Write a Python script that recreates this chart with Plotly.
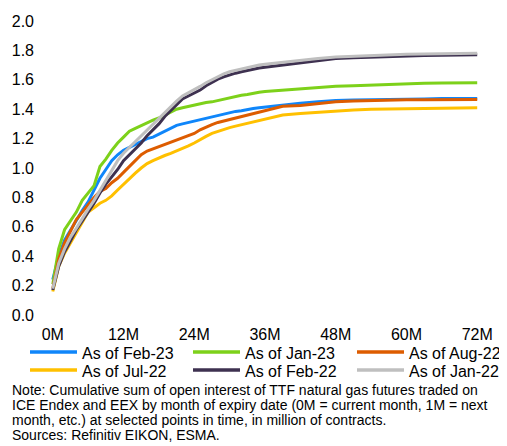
import plotly.graph_objects as go

months = list(range(0, 37)) + [39, 42, 45, 48, 51, 54, 57, 60, 63, 66, 69, 72]
tick_vals = [0, 12, 24, 36, 48, 60, 72]
tick_text = ["0M", "12M", "24M", "36M", "48M", "60M", "72M"]

feb23 = [0.24, 0.40, 0.51, 0.58, 0.65, 0.71, 0.77, 0.85, 0.93, 0.99, 1.05, 1.09, 1.12,
         1.14, 1.16, 1.18, 1.20, 1.21, 1.23, 1.25, 1.27, 1.29, 1.30, 1.31, 1.32,
         1.33, 1.34, 1.35, 1.36, 1.37, 1.38, 1.385, 1.39, 1.40, 1.405, 1.41, 1.415,
         1.43, 1.44, 1.45, 1.46, 1.462, 1.465, 1.468, 1.47, 1.47, 1.472, 1.472, 1.473]
jan23 = [0.21, 0.45, 0.58, 0.64, 0.70, 0.78, 0.83, 0.88, 1.01, 1.06, 1.12, 1.17, 1.21,
         1.25, 1.27, 1.29, 1.31, 1.325, 1.34, 1.36, 1.385, 1.40, 1.41, 1.42, 1.43,
         1.44, 1.445, 1.45, 1.46, 1.47, 1.475, 1.485, 1.495, 1.50, 1.51, 1.515, 1.52,
         1.53, 1.54, 1.55, 1.556, 1.56, 1.565, 1.57, 1.574, 1.576, 1.578, 1.58, 1.58]
aug22 = [0.18, 0.38, 0.49, 0.57, 0.65, 0.70, 0.75, 0.80, 0.84, 0.86, 0.90, 0.93, 0.97,
         1.01, 1.05, 1.09, 1.115, 1.13, 1.15, 1.165, 1.18, 1.195, 1.21, 1.22, 1.235,
         1.26, 1.28, 1.295, 1.31, 1.32, 1.335, 1.345, 1.355, 1.365, 1.37, 1.38, 1.39,
         1.42, 1.425, 1.44, 1.45, 1.455, 1.46, 1.462, 1.465, 1.465, 1.465, 1.466, 1.466]
jul22 = [0.16, 0.33, 0.42, 0.49, 0.57, 0.64, 0.70, 0.73, 0.76, 0.78, 0.81, 0.85, 0.89,
         0.93, 0.965, 1.00, 1.03, 1.05, 1.07, 1.085, 1.10, 1.115, 1.13, 1.15, 1.17,
         1.195, 1.215, 1.235, 1.25, 1.265, 1.275, 1.285, 1.295, 1.305, 1.315, 1.325, 1.335,
         1.36, 1.37, 1.38, 1.39, 1.395, 1.40, 1.402, 1.405, 1.407, 1.408, 1.41, 1.41]
feb22 = [0.17, 0.33, 0.43, 0.51, 0.58, 0.64, 0.70, 0.76, 0.83, 0.89, 0.94, 0.99, 1.05,
         1.09, 1.13, 1.17, 1.22, 1.26, 1.30, 1.35, 1.39, 1.43, 1.47, 1.49, 1.51,
         1.53, 1.56, 1.585, 1.605, 1.62, 1.635, 1.645, 1.655, 1.665, 1.67, 1.68, 1.685,
         1.70, 1.72, 1.735, 1.745, 1.75, 1.755, 1.76, 1.763, 1.765, 1.767, 1.768, 1.77]
jan22 = [0.18, 0.35, 0.45, 0.53, 0.59, 0.66, 0.72, 0.78, 0.85, 0.92, 0.99, 1.05, 1.10,
         1.14, 1.18, 1.22, 1.26, 1.30, 1.34, 1.38, 1.42, 1.455, 1.49, 1.51, 1.535,
         1.555, 1.58, 1.60, 1.625, 1.64, 1.655, 1.665, 1.675, 1.685, 1.69, 1.70, 1.705,
         1.72, 1.735, 1.745, 1.755, 1.76, 1.765, 1.77, 1.773, 1.775, 1.777, 1.778, 1.78]

series = [
    ("As of Feb-23", feb23, "#0F86FA"),
    ("As of Jan-23", jan23, "#7DD11A"),
    ("As of Aug-22", aug22, "#DD5C00"),
    ("As of Jul-22", jul22, "#FFC000"),
    ("As of Feb-22", feb22, "#3E3150"),
    ("As of Jan-22", jan22, "#BFBFBF"),
]

note_lines = [
    "Note: Cumulative sum of open interest of TTF natural gas futures traded on",
    "ICE Endex and EEX by month of expiry date (0M = current month, 1M = next",
    "month, etc.) at selected points in time, in million of contracts.",
    "Sources: Refinitiv EIKON, ESMA.",
]

FONT = "Liberation Sans, Arial, sans-serif"
OFF = 8  # page body margin in the browser
W, H = 507 - OFF, 446 - OFF
L, T = 41 - OFF, 21 - OFF
R = W - (489 - OFF)
B = H - (315 - OFF)
plot_w = W - L - R
plot_h = H - T - B


def px_x(p):
    return (p - OFF - L) / plot_w


def px_y(p):
    return (H - B - (p - OFF)) / plot_h


fig = go.Figure()
for name, vals, col in series:
    fig.add_trace(go.Scatter(x=months, y=vals, mode="lines", name=name,
                             line=dict(color=col, width=3), showlegend=False))

annotations = []
shapes = []
# legend keys: 3 columns x 2 rows
col_x = [30, 193, 357]
row_y = [352, 370]
for i, (name, vals, col) in enumerate(series):
    cx = col_x[i % 3]
    ry = row_y[i // 3]
    shapes.append(dict(type="line", xref="paper", yref="paper",
                       x0=px_x(cx), x1=px_x(cx + 47), y0=px_y(ry), y1=px_y(ry),
                       line=dict(color=col, width=3.5)))
    annotations.append(dict(text=name, xref="paper", yref="paper",
                            x=px_x(cx + 50), y=px_y(ry + 1),
                            xanchor="left", yanchor="middle", showarrow=False,
                            font=dict(family=FONT, size=16, color="#000000")))

for i, txt in enumerate(note_lines):
    py = 390 + i * 15
    annotations.append(dict(text=txt, xref="paper", yref="paper",
                            x=px_x(10), y=px_y(py),
                            xanchor="left", yanchor="middle", showarrow=False,
                            font=dict(family=FONT, size=14, color="#000000")))

fig.update_layout(
    width=W, height=H,
    margin=dict(l=L, r=R, t=T, b=B, pad=0, autoexpand=False),
    paper_bgcolor="white", plot_bgcolor="white",
    font=dict(family=FONT, size=16, color="#000000"),
    xaxis=dict(range=[-2, 74], tickvals=tick_vals, ticktext=tick_text,
               showgrid=False, zeroline=False, showline=False, ticks="",
               tickfont=dict(size=16), automargin=False, ticklabelstandoff=8),
    yaxis=dict(range=[0, 2.0], dtick=0.2, tickformat=".1f",
               showgrid=False, zeroline=False, showline=False, ticks="",
               tickfont=dict(size=16), ticklabelstandoff=6, automargin=False),
    showlegend=False,
    annotations=annotations,
    shapes=shapes,
)

fig.write_html("out.html")
